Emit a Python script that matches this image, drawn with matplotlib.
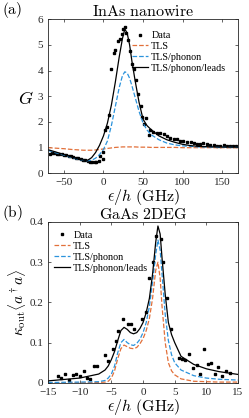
import numpy as np
import matplotlib
matplotlib.use('Agg')
import matplotlib.pyplot as plt

plt.rcParams['font.family'] = ['Liberation Serif', 'DejaVu Serif']
plt.rcParams['mathtext.fontset'] = 'cm'

ORANGE = '#e2703a'
BLUE = '#2b93dc'

# ---- (a) InAs nanowire ----
a_data_x = [-68, -65, -62, -59, -56, -53, -50, -47, -44, -41, -38, -35, -32, -29, -26,
            -23, -20, -17, -14, -11, -9, -6, -4, -1, 0, 2, 4, 7, 10, 13, 15, 18, 21, 23,
            25, 27, 29, 31.5, 34, 36, 38.5, 41.5, 44, 47, 49, 51, 54, 57, 59, 63, 67, 72,
            76, 80, 84, 89, 93, 97, 101, 105, 110, 114, 118, 122, 126, 131, 135, 139, 143,
            147, 152, 156, 160, 164, 168]
a_data_y = [0.76, 0.8, 0.8, 0.76, 0.74, 0.74, 0.72, 0.7, 0.68, 0.65, 0.63, 0.6, 0.58, 0.55, 0.52,
            0.49, 0.47, 0.45, 0.43, 0.42, 0.43, 0.47, 0.65, 0.55, 0.84, 1.66, 1.8, 2.25, 4.07, 4.7,
            4.8, 5.15, 5.23, 5.42, 5.6, 5.7, 5.45, 5.2, 4.75, 4.27, 4.04, 3.63, 3.1, 2.6, 2.2,
            1.92, 2.14, 1.5, 1.68, 1.62, 1.58, 1.55, 1.52, 1.45, 1.38, 1.34, 1.32, 1.25, 1.25,
            1.21, 1.21, 1.19, 1.15, 1.12, 1.19, 1.12, 1.08, 1.08, 1.06, 1.06, 1.08, 1.06, 1.04,
            1.04, 1.06]

a_fit_x = [-70, -60, -50, -40, -30, -25, -20, -15, -10, -5, 0, 5, 10, 15, 20, 24, 27,
           30, 33, 36, 40, 45, 50, 55, 60, 70, 80, 90, 100, 110, 120, 140, 170]
a_tls = [0.99, 0.97, 0.95, 0.92, 0.9, 0.89, 0.89, 0.89, 0.9, 0.92, 0.94, 0.96, 0.98, 1.0,
         1.01, 1.02, 1.02, 1.02, 1.02, 1.02, 1.02, 1.01, 1.01, 1.01, 1.0, 1.0, 1.0, 1.0,
         0.99, 0.99, 0.99, 0.99, 0.99]
a_phonon = [0.88, 0.79, 0.7, 0.6, 0.52, 0.49, 0.48, 0.5, 0.58, 0.72, 0.92, 1.25, 1.85, 2.6,
            3.35, 3.8, 3.95, 3.9, 3.7, 3.4, 2.95, 2.4, 1.95, 1.68, 1.5, 1.3, 1.17, 1.1, 1.06,
            1.04, 1.02, 1.01, 1.0]
a_leads = [0.91, 0.82, 0.72, 0.62, 0.53, 0.5, 0.5, 0.6, 0.8, 1.08, 1.45, 1.95, 2.65, 3.55,
           4.55, 5.25, 5.62, 5.45, 5.0, 4.35, 3.6, 2.75, 2.1, 1.85, 1.7, 1.45, 1.3, 1.2, 1.12,
           1.07, 1.04, 1.02, 1.01]

# ---- (b) GaAs 2DEG ----
b_data_x = [-13.5, -12.9, -12.3, -11.7, -11.1, -10.6, -10.0, -9.4, -8.8, -8.3, -7.7, -7.2,
            -6.0, -5.5, -4.8, -4.3, -4.0, -3.1, -2.4, -1.9, -1.4, -0.1, 0.5, 0.9, 1.5, 2.1,
            2.8, 3.2, 3.85, 4.4, 5.7, 6.1, 6.65, 7.3, 7.9, 8.5, 9.0, 9.6, 10.25, 10.8, 11.4,
            11.9, 12.5, 13.1, 13.7]
b_data_y = [0.017, 0.012, 0.022, 0.008, 0.02, 0.022, 0.017, 0.03, 0.013, 0.01, 0.041, 0.041,
            0.069, 0.055, 0.084, 0.104, 0.128, 0.158, 0.146, 0.146, 0.133, 0.159, 0.176, 0.26,
            0.30, 0.364, 0.357, 0.30, 0.21, 0.133, 0.063, 0.059, 0.056, 0.073, 0.036, 0.044,
            0.022, 0.085, 0.046, 0.05, 0.022, 0.04, 0.017, 0.03, 0.025]

b_fit_x = [-15, -10, -7, -6, -5.5, -5, -4.5, -4, -3.5, -3, -2.5, -2, -1.5, -1, -0.5, 0,
           0.5, 1, 1.5, 2, 2.35, 2.7, 3, 3.5, 4, 4.5, 5, 6, 8, 10, 12, 15]
b_tls = [0.0, 0.0, 0.001, 0.002, 0.004, 0.012, 0.03, 0.06, 0.085, 0.094, 0.09, 0.086, 0.085,
         0.088, 0.097, 0.11, 0.13, 0.16, 0.21, 0.28, 0.3, 0.26, 0.19, 0.1, 0.05, 0.03, 0.02,
         0.01, 0.004, 0.003, 0.002, 0.002]
b_phonon = [0.001, 0.002, 0.003, 0.006, 0.012, 0.022, 0.042, 0.075, 0.1, 0.108, 0.1, 0.095,
            0.093, 0.098, 0.108, 0.125, 0.15, 0.19, 0.25, 0.32, 0.355, 0.33, 0.27, 0.17,
            0.105, 0.07, 0.05, 0.032, 0.018, 0.012, 0.009, 0.007]
b_leads = [0.005, 0.012, 0.022, 0.032, 0.042, 0.058, 0.078, 0.105, 0.13, 0.138, 0.133, 0.125,
           0.122, 0.125, 0.135, 0.15, 0.175, 0.21, 0.27, 0.35, 0.39, 0.37, 0.31, 0.22, 0.15,
           0.12, 0.1, 0.066, 0.046, 0.035, 0.028, 0.021]


def style_axes(ax):
    for s in ax.spines.values():
        s.set_color('#262626')
        s.set_linewidth(0.6)
    ax.tick_params(direction='in', top=True, right=True, length=2.5, width=0.5,
                   labelsize=8, colors='#262626', pad=3.5)


fig = plt.figure(figsize=(2.49, 4.18), dpi=100)
ax1 = fig.add_axes([0.193, 0.586, 0.763, 0.368])
ax2 = fig.add_axes([0.193, 0.084, 0.763, 0.385])

leg_kw = dict(frameon=False, fontsize=7.3, handlelength=1.6, handletextpad=0.3,
              labelspacing=0.18)

# panel a
ax1.plot(a_data_x, a_data_y, 's', color='k', ms=1.9, label='Data')
ax1.plot(a_fit_x, a_tls, '--', color=ORANGE, lw=0.9, label='TLS')
ax1.plot(a_fit_x, a_phonon, '--', color=BLUE, lw=0.9, label='TLS/phonon')
ax1.plot(a_fit_x, a_leads, '-', color='k', lw=0.9, label='TLS/phonon/leads')
ax1.set_xlim(-70, 170)
ax1.set_ylim(0, 6)
ax1.set_xticks([-50, 0, 50, 100, 150])
ax1.set_yticks(range(7))
style_axes(ax1)
ax1.set_xlabel(r'$\epsilon/h\ \mathrm{(GHz)}$', fontsize=11.5, labelpad=0)
ax1.set_ylabel(r'$G$', fontsize=13, rotation=0)
ax1.yaxis.set_label_coords(-0.115, 0.42)
ax1.set_title(r'$\mathrm{InAs\ nanowire}$', fontsize=11.5, pad=2)
ax1.legend(loc='upper right', bbox_to_anchor=(0.96, 0.95), borderaxespad=0, **leg_kw)
fig.text(0.01, 0.976, r'$\mathrm{(a)}$', fontsize=11, va='center')

# panel b
ax2.plot(b_data_x, b_data_y, 's', color='k', ms=1.9, label='Data')
ax2.plot(b_fit_x, b_tls, '--', color=ORANGE, lw=0.9, label='TLS')
ax2.plot(b_fit_x, b_phonon, '--', color=BLUE, lw=0.9, label='TLS/phonon')
ax2.plot(b_fit_x, b_leads, '-', color='k', lw=0.9, label='TLS/phonon/leads')
ax2.set_xlim(-15, 15)
ax2.set_ylim(0, 0.4)
ax2.set_xticks([-15, -10, -5, 0, 5, 10, 15])
ax2.set_yticks([0, 0.1, 0.2, 0.3, 0.4])
ax2.set_yticklabels(['0', '0.1', '0.2', '0.3', '0.4'])
style_axes(ax2)
ax2.set_xlabel(r'$\epsilon/h\ \mathrm{(GHz)}$', fontsize=11.5, labelpad=0)
ax2.set_ylabel(r'$\kappa_{\rm out}\langle a^\dagger a\rangle$', fontsize=11, labelpad=1)
ax2.set_title(r'$\mathrm{GaAs\ 2DEG}$', fontsize=11.5, pad=2)
ax2.legend(loc='upper left', bbox_to_anchor=(0.01, 0.97), borderaxespad=0, **leg_kw)
fig.text(0.01, 0.49, r'$\mathrm{(b)}$', fontsize=11, va='center')

fig.savefig('out.png', dpi=100)
